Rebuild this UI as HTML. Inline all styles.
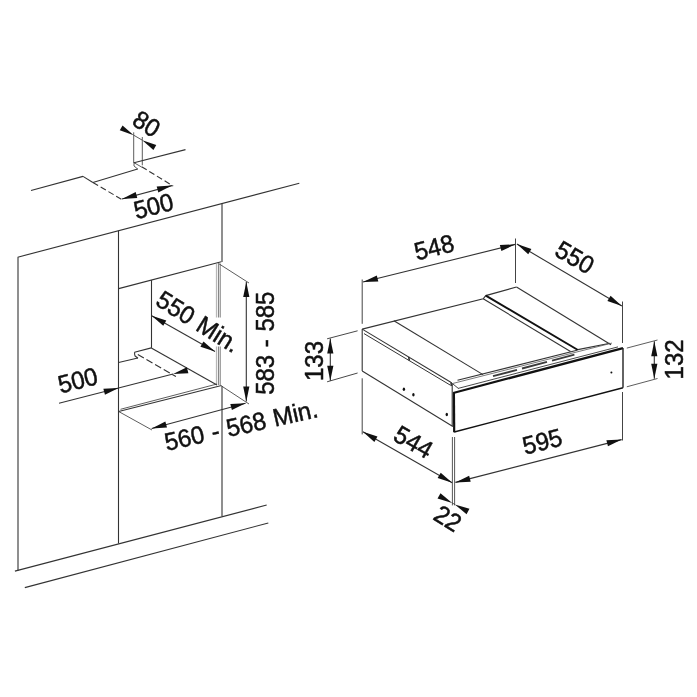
<!DOCTYPE html>
<html><head><meta charset="utf-8"><title>Dimensions</title>
<style>
html,body{margin:0;padding:0;background:#fff;}
svg{display:block;will-change:transform;}
text{font-family:"Liberation Sans",sans-serif;fill:#111;stroke:#111;stroke-width:0.5px;word-spacing:1px;}
</style></head><body>
<svg width="697" height="697" viewBox="0 0 697 697">
<rect width="697" height="697" fill="#fff"/>
<line x1="31.00" y1="190.50" x2="83.00" y2="176.40" stroke="#333" stroke-width="1.1" />
<line x1="83.00" y1="176.40" x2="92.90" y2="182.50" stroke="#333" stroke-width="1.1" />
<line x1="92.90" y1="182.50" x2="137.60" y2="169.00" stroke="#333" stroke-width="1.1" />
<line x1="92.90" y1="182.50" x2="122.40" y2="199.80" stroke="#333" stroke-width="1.1" stroke-dasharray="6 3"/>
<line x1="134.00" y1="162.70" x2="185.50" y2="149.60" stroke="#333" stroke-width="1.1" />
<line x1="133.70" y1="132.30" x2="133.70" y2="163.00" stroke="#333" stroke-width="0.8" />
<line x1="142.30" y1="137.00" x2="142.30" y2="165.30" stroke="#333" stroke-width="0.8" />
<line x1="134.00" y1="162.70" x2="134.00" y2="166.00" stroke="#333" stroke-width="0.8" />
<line x1="134.00" y1="166.00" x2="138.00" y2="169.30" stroke="#333" stroke-width="0.8" />
<line x1="134.00" y1="162.70" x2="141.50" y2="167.00" stroke="#333" stroke-width="0.8" />
<line x1="141.60" y1="166.70" x2="173.20" y2="186.10" stroke="#333" stroke-width="1.1" stroke-dasharray="6 3"/>
<line x1="122.00" y1="199.00" x2="172.00" y2="185.60" stroke="#333" stroke-width="1.1" />
<polygon points="122.00,199.00 135.69,192.12 137.29,198.11" fill="#111" stroke="none"/>
<polygon points="172.00,185.60 158.31,192.48 156.71,186.49" fill="#111" stroke="none"/>
<line x1="133.70" y1="135.20" x2="142.30" y2="140.20" stroke="#333" stroke-width="0.8" />
<polygon points="133.70,135.20 119.76,130.33 122.57,125.49" fill="#111" stroke="none"/>
<polygon points="142.30,140.20 156.24,145.07 153.43,149.91" fill="#111" stroke="none"/>
<text transform="translate(146.70 123.80) rotate(32) scale(0.96 1)" font-size="25" text-anchor="middle" dominant-baseline="central">80</text>
<text transform="translate(153.50 205.90) rotate(-14) scale(0.96 1)" font-size="25" text-anchor="middle" dominant-baseline="central">500</text>
<line x1="17.70" y1="257.20" x2="299.30" y2="183.20" stroke="#333" stroke-width="1.1" />
<line x1="18.00" y1="257.20" x2="18.00" y2="570.70" stroke="#333" stroke-width="1.1" />
<line x1="14.90" y1="571.10" x2="266.70" y2="505.00" stroke="#333" stroke-width="1.1" />
<line x1="24.80" y1="587.60" x2="268.30" y2="523.00" stroke="#333" stroke-width="1.1" />
<line x1="118.50" y1="230.70" x2="118.50" y2="543.60" stroke="#333" stroke-width="1.1" />
<line x1="222.00" y1="203.60" x2="222.00" y2="262.00" stroke="#333" stroke-width="1.1" />
<line x1="222.00" y1="386.00" x2="222.00" y2="516.20" stroke="#333" stroke-width="1.1" />
<line x1="118.70" y1="288.60" x2="221.30" y2="261.70" stroke="#333" stroke-width="1.1" />
<line x1="151.50" y1="280.10" x2="151.50" y2="347.90" stroke="#333" stroke-width="1.1" />
<line x1="216.40" y1="263.50" x2="216.40" y2="317.50" stroke="#999" stroke-width="0.8" />
<line x1="218.40" y1="263.50" x2="218.40" y2="317.50" stroke="#555" stroke-width="0.8" />
<line x1="220.20" y1="263.50" x2="220.20" y2="317.50" stroke="#555" stroke-width="0.8" />
<line x1="216.40" y1="346.50" x2="216.40" y2="385.00" stroke="#999" stroke-width="0.8" />
<line x1="218.40" y1="346.50" x2="218.40" y2="385.00" stroke="#555" stroke-width="0.8" />
<line x1="220.20" y1="346.50" x2="220.20" y2="385.00" stroke="#555" stroke-width="0.8" />
<line x1="218.50" y1="263.50" x2="249.00" y2="283.00" stroke="#333" stroke-width="0.8" />
<line x1="221.50" y1="386.00" x2="249.00" y2="404.00" stroke="#333" stroke-width="0.8" />
<line x1="246.30" y1="282.00" x2="246.30" y2="401.50" stroke="#333" stroke-width="1.1" />
<polygon points="246.30,282.00 249.40,297.00 243.20,297.00" fill="#111" stroke="none"/>
<polygon points="246.30,401.50 243.20,386.50 249.40,386.50" fill="#111" stroke="none"/>
<line x1="151.70" y1="315.80" x2="215.00" y2="351.50" stroke="#333" stroke-width="1.1" />
<polygon points="151.70,315.80 166.29,320.47 163.24,325.87" fill="#111" stroke="none"/>
<polygon points="215.00,351.50 200.41,346.83 203.46,341.43" fill="#111" stroke="none"/>
<line x1="134.50" y1="352.20" x2="151.30" y2="347.90" stroke="#333" stroke-width="1.1" />
<line x1="134.50" y1="352.20" x2="134.80" y2="355.70" stroke="#333" stroke-width="1.1" />
<line x1="134.80" y1="355.70" x2="138.00" y2="358.20" stroke="#333" stroke-width="1.1" />
<line x1="118.65" y1="362.50" x2="137.80" y2="358.00" stroke="#333" stroke-width="1.1" />
<line x1="137.80" y1="354.40" x2="175.90" y2="376.60" stroke="#333" stroke-width="1.1" stroke-dasharray="7 3"/>
<line x1="151.30" y1="347.90" x2="217.00" y2="385.00" stroke="#333" stroke-width="1.1" />
<line x1="59.00" y1="403.30" x2="173.10" y2="374.00" stroke="#333" stroke-width="1.1" />
<polygon points="118.65,388.00 104.94,394.83 103.36,388.83" fill="#111" stroke="none"/>
<polygon points="173.10,374.00 186.81,367.17 188.39,373.17" fill="#111" stroke="none"/>
<line x1="118.65" y1="411.50" x2="221.50" y2="385.50" stroke="#333" stroke-width="1.1" />
<line x1="120.50" y1="409.30" x2="217.00" y2="384.00" stroke="#333" stroke-width="0.8" />
<line x1="118.65" y1="411.50" x2="152.00" y2="430.00" stroke="#333" stroke-width="0.8" />
<line x1="151.70" y1="428.50" x2="245.60" y2="403.20" stroke="#333" stroke-width="1.1" />
<polygon points="151.70,428.50 165.38,421.60 166.99,427.59" fill="#111" stroke="none"/>
<polygon points="245.60,403.20 231.92,410.10 230.31,404.11" fill="#111" stroke="none"/>
<text transform="translate(198.20 321.60) rotate(32) scale(0.96 1)" font-size="25" text-anchor="middle" dominant-baseline="central">550 Min.</text>
<text transform="translate(265.30 343.20) rotate(-90) scale(0.96 1)" font-size="25" text-anchor="middle" dominant-baseline="central">583 - 585</text>
<text transform="translate(241.00 425.40) rotate(-12.6) scale(0.96 1)" font-size="25" text-anchor="middle" dominant-baseline="central">560 - 568 Min.</text>
<text transform="translate(77.80 380.30) rotate(-14) scale(0.96 1)" font-size="25" text-anchor="middle" dominant-baseline="central">500</text>
<polyline points="362.20,329.10 483.20,298.80 485.80,295.60 516.50,287.00" stroke="#333" stroke-width="1.1" fill="none" />
<line x1="516.50" y1="287.00" x2="611.00" y2="344.70" stroke="#333" stroke-width="1.1" />
<line x1="362.20" y1="329.10" x2="450.80" y2="382.20" stroke="#333" stroke-width="1.1" />
<line x1="364.00" y1="333.60" x2="450.60" y2="385.30" stroke="#333" stroke-width="1.0" />
<line x1="408.70" y1="356.80" x2="409.40" y2="360.60" stroke="#333" stroke-width="1.6" />
<line x1="450.90" y1="382.20" x2="451.60" y2="386.00" stroke="#333" stroke-width="1.6" />
<line x1="451.00" y1="382.40" x2="458.30" y2="388.40" stroke="#333" stroke-width="0.9" />
<line x1="362.20" y1="329.10" x2="362.20" y2="371.00" stroke="#333" stroke-width="1.1" />
<line x1="362.20" y1="371.00" x2="452.90" y2="426.50" stroke="#333" stroke-width="1.1" />
<line x1="452.20" y1="384.00" x2="452.20" y2="426.30" stroke="#333" stroke-width="1.1" />
<line x1="393.90" y1="320.70" x2="483.00" y2="374.60" stroke="#333" stroke-width="1.1" />
<line x1="483.20" y1="298.80" x2="570.50" y2="351.50" stroke="#333" stroke-width="1.1" />
<line x1="485.80" y1="295.60" x2="577.90" y2="350.00" stroke="#111" stroke-width="2.0" />
<line x1="457.50" y1="380.28" x2="577.00" y2="350.25" stroke="#333" stroke-width="1.1" />
<line x1="577.90" y1="349.60" x2="610.00" y2="343.30" stroke="#333" stroke-width="1.1" />
<line x1="453.00" y1="383.41" x2="612.00" y2="343.05" stroke="#555" stroke-width="0.8" />
<line x1="493.00" y1="376.19" x2="517.00" y2="369.86" stroke="#3a3a3a" stroke-width="1.9" />
<line x1="522.00" y1="368.54" x2="547.00" y2="361.94" stroke="#3a3a3a" stroke-width="1.9" />
<line x1="552.00" y1="360.62" x2="574.40" y2="354.70" stroke="#3a3a3a" stroke-width="1.9" />
<line x1="458.00" y1="388.43" x2="618.00" y2="346.89" stroke="#333" stroke-width="0.9" />
<line x1="453.20" y1="393.00" x2="623.00" y2="348.10" stroke="#111" stroke-width="2.2" />
<line x1="453.90" y1="392.40" x2="454.20" y2="432.30" stroke="#111" stroke-width="2.2" />
<line x1="454.20" y1="432.00" x2="623.00" y2="387.70" stroke="#111" stroke-width="1.4" />
<line x1="623.00" y1="348.10" x2="623.00" y2="387.70" stroke="#222" stroke-width="1.4" />
<ellipse cx="403.9" cy="389.2" rx="1.2" ry="1.7" fill="#111"/>
<ellipse cx="413.4" cy="394.7" rx="1.2" ry="1.7" fill="#111"/>
<ellipse cx="446.8" cy="414.5" rx="1.2" ry="1.7" fill="#111"/>
<circle cx="611.4" cy="372.6" r="1.0" fill="#111"/>
<line x1="327.10" y1="338.80" x2="357.60" y2="330.80" stroke="#333" stroke-width="0.9" />
<line x1="327.10" y1="381.80" x2="357.60" y2="373.00" stroke="#333" stroke-width="0.9" />
<line x1="330.30" y1="338.60" x2="330.30" y2="380.70" stroke="#333" stroke-width="1.1" />
<polygon points="330.30,338.60 333.40,353.60 327.20,353.60" fill="#111" stroke="none"/>
<polygon points="330.30,380.70 327.20,365.70 333.40,365.70" fill="#111" stroke="none"/>
<line x1="362.20" y1="279.50" x2="362.20" y2="323.80" stroke="#444" stroke-width="1.0" />
<line x1="362.20" y1="378.30" x2="362.20" y2="434.40" stroke="#444" stroke-width="1.0" />
<line x1="363.00" y1="282.00" x2="515.20" y2="244.40" stroke="#333" stroke-width="1.1" />
<polygon points="363.00,282.00 376.82,275.39 378.31,281.41" fill="#111" stroke="none"/>
<polygon points="515.20,244.40 501.38,251.01 499.89,244.99" fill="#111" stroke="none"/>
<line x1="515.50" y1="238.50" x2="515.50" y2="283.00" stroke="#444" stroke-width="1.0" />
<line x1="516.90" y1="244.00" x2="621.90" y2="306.00" stroke="#333" stroke-width="1.1" />
<polygon points="516.90,244.00 531.39,248.96 528.24,254.30" fill="#111" stroke="none"/>
<polygon points="621.90,306.00 607.41,301.04 610.56,295.70" fill="#111" stroke="none"/>
<line x1="622.50" y1="301.50" x2="622.50" y2="343.00" stroke="#444" stroke-width="1.0" />
<line x1="622.50" y1="392.00" x2="622.50" y2="440.50" stroke="#444" stroke-width="1.0" />
<line x1="626.80" y1="348.10" x2="657.50" y2="340.00" stroke="#333" stroke-width="0.8" />
<line x1="626.80" y1="386.80" x2="657.50" y2="378.50" stroke="#333" stroke-width="0.8" />
<line x1="654.30" y1="341.20" x2="654.30" y2="378.80" stroke="#333" stroke-width="1.1" />
<polygon points="654.30,341.20 657.40,356.20 651.20,356.20" fill="#111" stroke="none"/>
<polygon points="654.30,378.80 651.20,363.80 657.40,363.80" fill="#111" stroke="none"/>
<line x1="362.90" y1="431.80" x2="452.20" y2="482.80" stroke="#333" stroke-width="1.1" />
<polygon points="362.90,431.80 377.46,436.55 374.39,441.93" fill="#111" stroke="none"/>
<polygon points="452.20,482.80 437.64,478.05 440.71,472.67" fill="#111" stroke="none"/>
<line x1="452.40" y1="437.00" x2="452.40" y2="505.40" stroke="#444" stroke-width="0.9" />
<line x1="454.60" y1="437.00" x2="454.60" y2="505.40" stroke="#444" stroke-width="0.9" />
<line x1="455.40" y1="482.40" x2="621.70" y2="439.60" stroke="#333" stroke-width="1.1" />
<polygon points="455.40,482.40 469.15,475.66 470.70,481.66" fill="#111" stroke="none"/>
<polygon points="621.70,439.60 607.95,446.34 606.40,440.34" fill="#111" stroke="none"/>
<line x1="452.20" y1="503.00" x2="454.80" y2="504.40" stroke="#333" stroke-width="0.8" />
<polygon points="452.20,503.00 437.52,498.62 440.46,493.16" fill="#111" stroke="none"/>
<polygon points="454.80,504.40 469.48,508.78 466.54,514.24" fill="#111" stroke="none"/>
<text transform="translate(314.00 361.00) rotate(-90) scale(0.96 1)" font-size="25" text-anchor="middle" dominant-baseline="central">133</text>
<text transform="translate(434.10 247.20) rotate(-14) scale(0.96 1)" font-size="25" text-anchor="middle" dominant-baseline="central">548</text>
<text transform="translate(574.90 257.30) rotate(30) scale(0.96 1)" font-size="25" text-anchor="middle" dominant-baseline="central">550</text>
<text transform="translate(674.00 359.40) rotate(-90) scale(0.96 1)" font-size="25" text-anchor="middle" dominant-baseline="central">132</text>
<text transform="translate(413.50 442.00) rotate(30) scale(0.96 1)" font-size="25" text-anchor="middle" dominant-baseline="central">544</text>
<text transform="translate(542.30 441.50) rotate(-14) scale(0.96 1)" font-size="25" text-anchor="middle" dominant-baseline="central">595</text>
<text transform="translate(447.90 518.40) rotate(32) scale(0.96 1)" font-size="25" text-anchor="middle" dominant-baseline="central">22</text>
</svg>
</body></html>
